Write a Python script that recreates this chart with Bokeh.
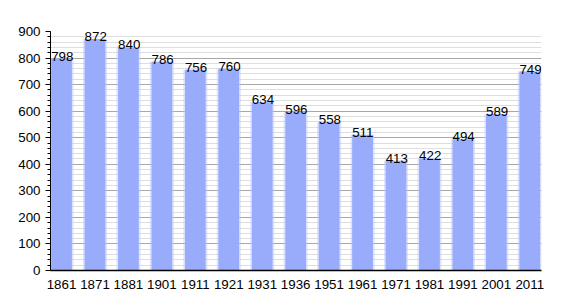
from bokeh.plotting import figure
from bokeh.models import ColumnDataSource, Range1d, SingleIntervalTicker, FixedTicker, LabelSet
from bokeh.core.properties import value
from bokeh.embed import file_html
from bokeh.resources import INLINE

years = ["1861", "1871", "1881", "1901", "1911", "1921", "1931", "1936", "1951",
         "1961", "1971", "1981", "1991", "2001", "2011"]
population = [798, 872, 840, 786, 756, 760, 634, 596, 558, 511, 413, 422, 494, 589, 749]

xs = list(range(len(years)))
labels = [str(v) for v in population]
src = ColumnDataSource(dict(x=xs, top=population, label=labels,
                            lx=[x - 0.31 for x in xs]))

p = figure(width=570, height=300, output_backend="svg", toolbar_location=None,
           x_range=Range1d(-0.33, 14.35), y_range=Range1d(0, 900),
           min_border_left=50, min_border_right=29, min_border_top=31, min_border_bottom=30)
p.outline_line_color = None
p.background_fill_color = "white"

# soft edge + main bar
p.vbar(x="x", top="top", width=0.72, bottom=0, source=src, color="#b9c6fc", alpha=0.45, line_color=None)
p.vbar(x="x", top="top", width=0.62, bottom=0, source=src, color="#98acfb", line_color=None)

p.add_layout(LabelSet(x="lx", y="top", text="label", source=src, text_font=value("Liberation Sans"),
                      text_font_size="10pt", text_color="black", text_align="left",
                      text_baseline="bottom", y_offset=-2))

p.yaxis.ticker = SingleIntervalTicker(interval=100, num_minor_ticks=5)
p.ygrid.ticker = SingleIntervalTicker(interval=100, num_minor_ticks=5)
p.ygrid.grid_line_color = "#a8a8a8"
p.ygrid.minor_grid_line_color = "#dedede"
p.xgrid.grid_line_color = None

p.yaxis.axis_line_color = "black"
p.yaxis.major_tick_line_color = "black"
p.yaxis.minor_tick_line_color = "black"
p.yaxis.major_tick_in = 0
p.yaxis.major_tick_out = 5
p.yaxis.minor_tick_in = 0
p.yaxis.minor_tick_out = 3
p.yaxis.major_label_text_font = "Liberation Sans"
p.yaxis.major_label_text_font_size = "10pt"
p.yaxis.major_label_text_color = "black"
p.yaxis.major_label_standoff = 5

p.xaxis.ticker = FixedTicker(ticks=xs)
p.xaxis.major_label_overrides = {i: y for i, y in enumerate(years)}
p.xaxis.axis_line_color = "black"
p.xaxis.axis_line_width = 1.5
p.xaxis.major_tick_line_color = None
p.xaxis.minor_tick_line_color = None
p.xaxis.major_label_text_font = "Liberation Sans"
p.xaxis.major_label_text_font_size = "10pt"
p.xaxis.major_label_text_color = "black"
p.xaxis.major_label_standoff = 3

open("out.html", "w").write(file_html(p, INLINE))
